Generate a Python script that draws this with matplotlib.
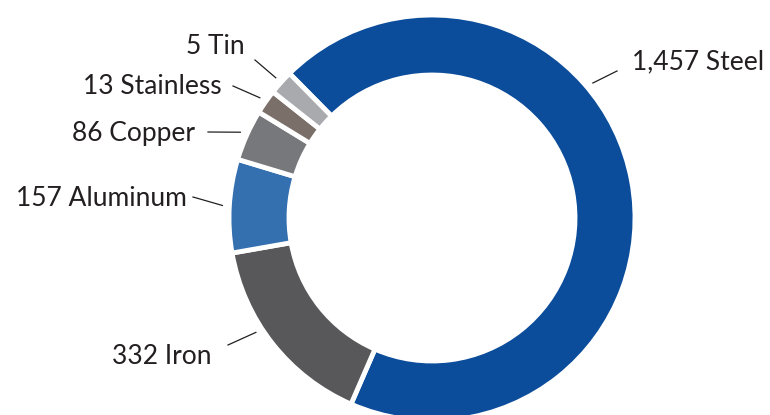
import matplotlib
matplotlib.use("Agg")
import matplotlib.pyplot as plt
import numpy as np

# data (clockwise from the top-left)
metals = ["Steel", "Iron", "Aluminum", "Copper", "Stainless", "Tin"]
counts = [1457, 332, 157, 86, 13, 5]
labels = ["1,457 Steel", "332 Iron", "157 Aluminum", "86 Copper", "13 Stainless", "5 Tin"]
colors = ["#0b4c9b", "#58585a", "#3470b0", "#77787b", "#7b7069", "#a8aaad"]

W, H = 770, 415
CX, CY, R, RING = 432, H - 218, 203, 60

# small slices get a minimum visible share, like the original
min_share = 0.02
sizes = np.maximum(np.array(counts, float), min_share * sum(counts))

# label layout in pixel coords (x, y from top), leader angle in degrees
text_pos = [(632, 62), (212, 356), (187, 198), (195, 133), (222, 87), (245, 46)]
line_end = [(617, 71), (228, 345), (193, 197), (208, 132), (233, 86), (255, 60)]
leader_angle = [40, 213, None, None, None, None]

plt.rcParams["font.family"] = ["Lato", "DejaVu Sans"]

fig = plt.figure(figsize=(W / 100, H / 100), dpi=100)
ax = fig.add_axes([0, 0, 1, 1])
wedges, _ = ax.pie(
    sizes, colors=colors, startangle=134.6, counterclock=False,
    center=(CX, CY), radius=R,
    wedgeprops=dict(width=RING, edgecolor="white", linewidth=3.5),
)
ax.set_xlim(0, W)
ax.set_ylim(0, H)
ax.set_aspect("equal")
ax.axis("off")

for w, lab, tp, le, ang in zip(wedges, labels, text_pos, line_end, leader_angle):
    if ang is None:
        ang = (w.theta1 + w.theta2) / 2
    a = np.deg2rad(ang)
    x0, y0 = CX + (R + 7) * np.cos(a), CY + (R + 7) * np.sin(a)
    ax.plot([x0, le[0]], [y0, H - le[1]], color="#231f20", lw=0.9)
    ha = "left" if tp[0] > CX else "right"
    ax.text(tp[0], H - tp[1], lab, ha=ha, va="center", fontsize=19, color="#231f20")

fig.savefig("out.png", dpi=100)
